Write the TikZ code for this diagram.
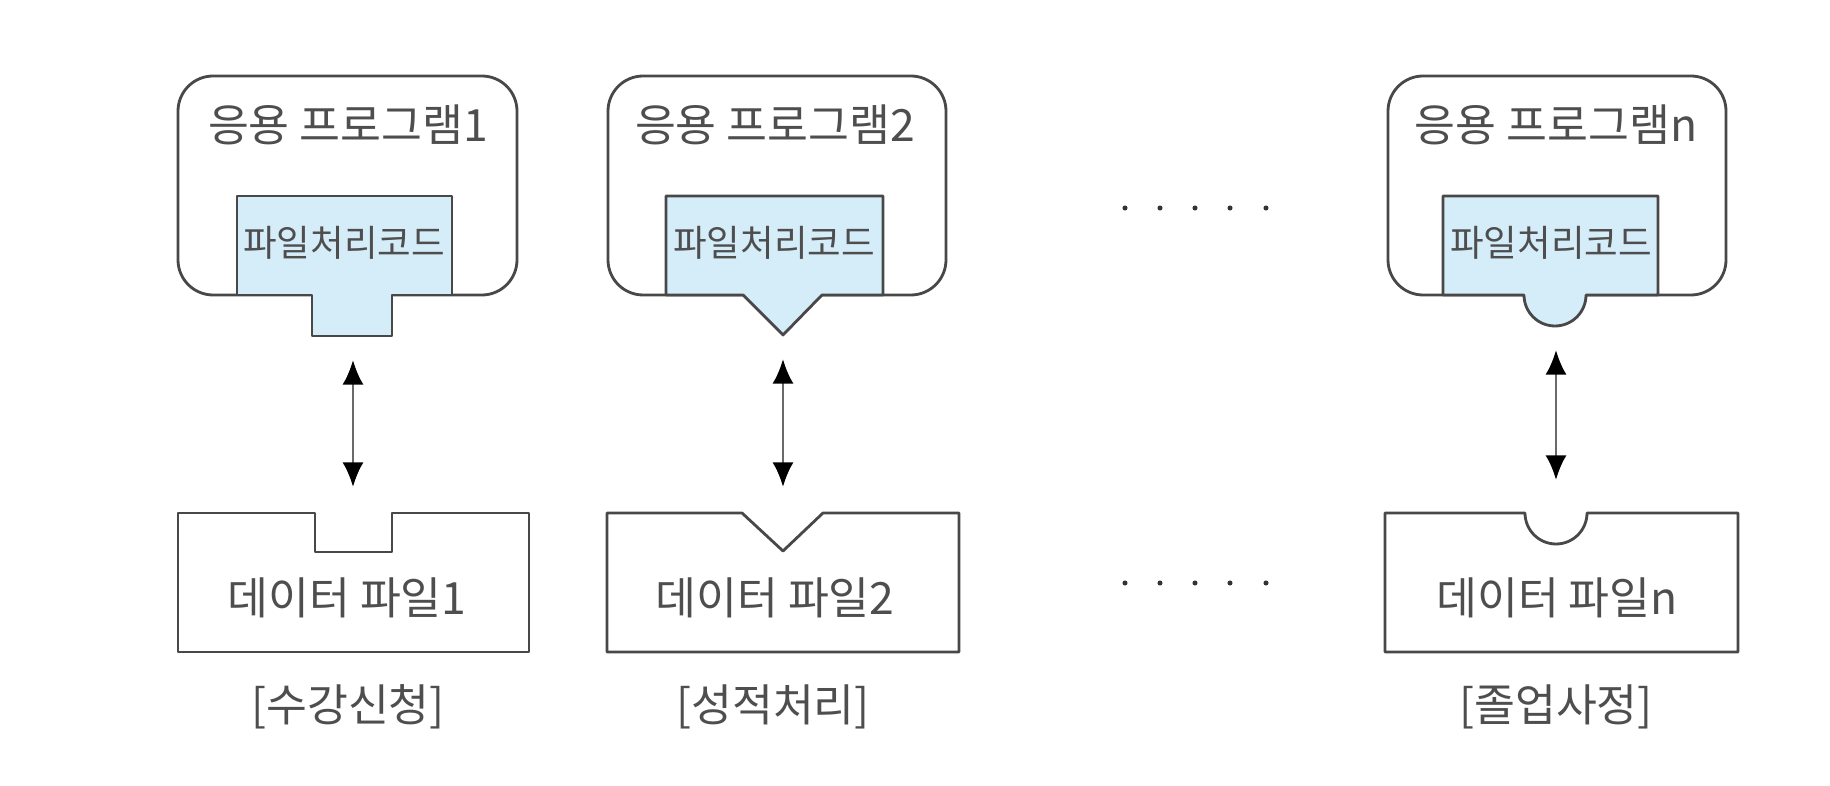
\documentclass[tikz,border=0pt]{standalone}
\usepackage{fontspec}
\setmainfont{Noto Sans CJK KR}
\usetikzlibrary{arrows.meta}
\definecolor{txt}{HTML}{4E4E4E}
\definecolor{ln}{HTML}{484848}
\definecolor{shaft}{HTML}{6A6A6A}
\definecolor{codefill}{HTML}{D5ECF9}
\begin{document}
\begin{tikzpicture}[x=0.02cm,y=-0.02cm,
  shapeline/.style={draw=ln, line width=1.6pt, line join=round},
  progbox/.style={shapeline, fill=white, rounded corners=20pt},
  bigtext/.style={font=\fontsize{25.3pt}{28pt}\selectfont, text=txt, inner sep=0pt},
  smalltext/.style={font=\fontsize{20.8pt}{23pt}\selectfont, text=txt, inner sep=0pt},
  link/.style={draw=shaft, line width=1.5pt,
    {Latex[length=14pt,width=12pt,color=black]}-{Latex[length=14pt,width=12pt,color=black]}},
  dotmark/.style={circle, fill=black!80, draw=none, inner sep=0pt, minimum size=2.9pt}]
\useasboundingbox (0,0) rectangle (1830,786);

% ---------- column 1 ----------
\draw[progbox] (178,76) rectangle (517,295);
\draw[shapeline, fill=codefill] (237,196) -- (452,196) -- (452,295) -- (392,295) -- (392,336)
  -- (312,336) -- (312,295) -- (237,295) -- cycle;
\draw[shapeline] (178,513) -- (315,513) -- (315,552) -- (392,552) -- (392,513) -- (529,513)
  -- (529,652) -- (178,652) -- cycle;
\node[bigtext] (p1) at (348,125) {응용 프로그램1};
\node[smalltext] (c1) at (344,243) {파일처리코드};
\node[bigtext] (f1) at (347,598) {데이터 파일1};
\node[bigtext] (l1) at (348,707) {[수강신청]};
\coordinate (tab1) at (353,336);
\coordinate (dat1) at (353,513);
\draw[link, shorten <=0.48cm, shorten >=0.52cm] (tab1) -- (dat1);

% ---------- column 2 ----------
\draw[progbox] (608,76) rectangle (946,295);
\draw[shapeline, fill=codefill] (666,196) -- (883,196) -- (883,295) -- (822,295) -- (783,335)
  -- (743,295) -- (666,295) -- cycle;
\draw[shapeline] (607,513) -- (742,513) -- (783,551) -- (823,513) -- (959,513)
  -- (959,652) -- (607,652) -- cycle;
\node[bigtext] (p2) at (775,125) {응용 프로그램2};
\node[smalltext] (c2) at (774,243) {파일처리코드};
\node[bigtext] (f2) at (775,598) {데이터 파일2};
\node[bigtext] (l2) at (773,707) {[성적처리]};
\coordinate (tab2) at (783,335);
\coordinate (dat2) at (783,513);
\draw[link, shorten <=0.48cm, shorten >=0.52cm] (tab2) -- (dat2);

% ---------- dots ----------
\foreach \i/\x in {1/1125,2/1160,3/1195,4/1230,5/1266}{
  \node[dotmark] (dt\i) at (\x,208) {};
  \node[dotmark] (db\i) at (\x,583) {};
}

% ---------- column n ----------
\draw[progbox] (1388,76) rectangle (1726,295);
\draw[shapeline, fill=codefill] (1443,196) -- (1658,196) -- (1658,295) -- (1586,295)
  arc[start angle=0, end angle=180, radius=31] -- (1443,295) -- cycle;
\draw[shapeline] (1385,513) -- (1525,513) arc[start angle=180, end angle=0, radius=31]
  -- (1738,513) -- (1738,652) -- (1385,652) -- cycle;
\node[bigtext] (pn) at (1556,125) {응용 프로그램n};
\node[smalltext] (cn) at (1551,243) {파일처리코드};
\node[bigtext] (fn) at (1557,598) {데이터 파일n};
\node[bigtext] (ln) at (1556,707) {[졸업사정]};
\coordinate (tabn) at (1556,326);
\coordinate (datn) at (1556,513);
\draw[link, shorten <=0.48cm, shorten >=0.66cm] (tabn) -- (datn);
\end{tikzpicture}
\end{document}
